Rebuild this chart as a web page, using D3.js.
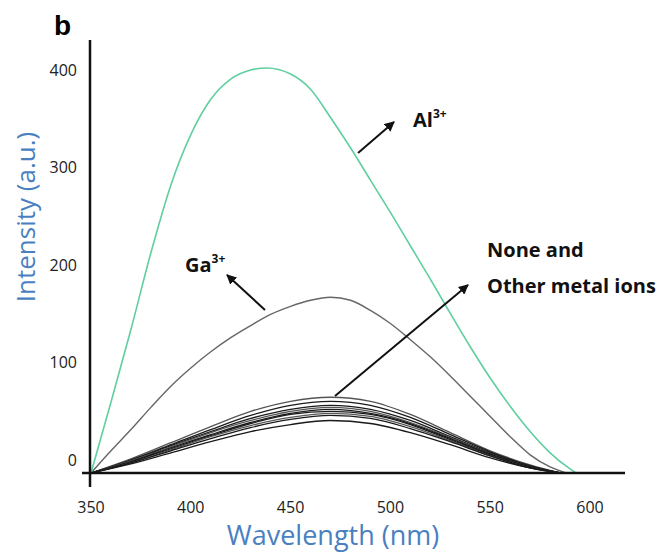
<!DOCTYPE html>
<html>
<head>
<meta charset="utf-8">
<script src="https://cdn.jsdelivr.net/npm/d3@7"></script>
<style>
  body { margin: 0; background: #fff; }
</style>
</head>
<body>
<div id="chart"></div>
<script>
// wavelengths (nm) and intensities
var alWl  = [350, 360, 370, 380, 390, 400, 410, 420, 430, 438, 450, 460, 470, 480, 490, 500, 510, 520, 530, 540, 550, 560, 570, 580, 590, 593];
var alVal = [0, 70, 142, 218, 285, 335, 370, 390, 399, 401, 395, 380, 352, 322, 290, 258, 225, 192, 158, 125, 94, 66, 41, 20, 4, 0];

var gaWl  = [350, 360, 370, 380, 390, 400, 410, 420, 430, 440, 450, 460, 470, 480, 490, 500, 510, 520, 530, 540, 550, 560, 570, 580, 588];
var gaVal = [0, 22, 43, 65, 86, 104, 120, 134, 146, 157, 165, 171, 174, 171, 161, 148, 132, 115, 96, 76, 56, 36, 18, 6, 0];

// "None and other metal ions" bundle
var otherWl = [350, 370, 390, 410, 430, 450, 470, 490, 510, 530, 550, 570, 585];
var other1 = [0, 14, 30, 46, 61, 71, 75, 71, 58, 40, 22, 8, 0];
var other2 = [0, 13, 28, 43, 57, 67, 71, 67, 55, 38, 21, 7, 0];
var other3 = [0, 12, 27, 41, 54, 63, 67, 63, 52, 36, 20, 7, 0];
var other4 = [0, 12, 26, 40, 52, 61, 65, 61, 50, 35, 19, 6, 0];
var other5 = [0, 11, 25, 38, 50, 59, 63, 59, 49, 34, 19, 6, 0];
var other6 = [0, 11, 24, 37, 49, 58, 61, 58, 48, 33, 18, 6, 0];
var other7 = [0, 10, 23, 36, 47, 55, 59, 56, 46, 32, 17, 5, 0];
var other8 = [0, 10, 22, 34, 45, 53, 57, 54, 44, 31, 17, 5, 0];
var other9 = [0, 9, 20, 31, 41, 48, 52, 49, 40, 28, 15, 5, 0];
var others = [other1, other2, other3, other4, other5, other6, other7, other8, other9];

var xTicks = [350, 400, 450, 500, 550, 600];
var yTicks = [0, 100, 200, 300, 400];

var W = 657, H = 555;
var svg = d3.select("#chart").append("svg")
    .attr("width", W)
    .attr("height", H)
    .style("font-family", "'Open Sans', sans-serif");

var x = d3.scaleLinear().domain([350, 600]).range([91, 590]);
var y = d3.scaleLinear().domain([0, 400]).range([473, 69]);
// the printed tick labels sit a little off the data scale
var yLab = d3.scaleLinear().domain([0, 400]).range([460, 70]);

function pairs(wl, vals) {
  return wl.map(function(w, i) { return [w, vals[i]]; });
}

var line = d3.line()
    .x(function(d) { return x(d[0]); })
    .y(function(d) { return y(d[1]); })
    .curve(d3.curveMonotoneX);

// bundle of other ions
svg.append("g").selectAll("path")
    .data(others)
    .enter()
    .append("path")
      .attr("d", function(d) { return line(pairs(otherWl, d)); })
      .attr("fill", "none")
      .attr("stroke", function(d, i) { return i % 3 == 0 ? "#555" : "#1a1a1a"; })
      .attr("stroke-width", 1.3);

// Ga3+
svg.append("path")
    .attr("d", line(pairs(gaWl, gaVal)))
    .attr("fill", "none")
    .attr("stroke", "#666")
    .attr("stroke-width", 1.4);

// Al3+
svg.append("path")
    .attr("d", line(pairs(alWl, alVal)))
    .attr("fill", "none")
    .attr("stroke", "#5fcf9f")
    .attr("stroke-width", 1.6);

// axes lines
svg.append("line")
    .attr("x1", 90).attr("x2", 90)
    .attr("y1", 40).attr("y2", 487)
    .attr("stroke", "#111").attr("stroke-width", 2.5);
svg.append("line")
    .attr("x1", 82).attr("x2", 625)
    .attr("y1", 473).attr("y2", 473)
    .attr("stroke", "#111").attr("stroke-width", 2.5);

// tick labels
svg.append("g").selectAll("text")
    .data(xTicks)
    .enter()
    .append("text")
      .attr("x", function(d) { return x(d); })
      .attr("y", 513)
      .attr("text-anchor", "middle")
      .style("font-size", "16px")
      .style("fill", "#222")
      .text(function(d) { return d; });

svg.append("g").selectAll("text")
    .data(yTicks)
    .enter()
    .append("text")
      .attr("x", 77)
      .attr("y", function(d) { return yLab(d); })
      .attr("dy", "0.35em")
      .attr("text-anchor", "end")
      .style("font-size", "16px")
      .style("fill", "#222")
      .text(function(d) { return d; });

// axis titles
svg.append("text")
    .attr("x", 333)
    .attr("y", 545)
    .attr("text-anchor", "middle")
    .style("font-size", "27px")
    .style("fill", "#4a7fc1")
    .text("Wavelength (nm)");

svg.append("text")
    .attr("transform", "translate(35,217) rotate(-90)")
    .attr("text-anchor", "middle")
    .style("font-size", "26px")
    .style("fill", "#4a7fc1")
    .text("Intensity (a.u.)");

// panel letter
svg.append("text")
    .attr("x", 54)
    .attr("y", 35)
    .style("font-family", "'Liberation Sans', Arial, sans-serif")
    .style("font-size", "28px")
    .style("font-weight", "bold")
    .text("b");

// arrows
svg.append("defs").append("marker")
    .attr("id", "head")
    .attr("viewBox", "0 0 10 10")
    .attr("refX", 9).attr("refY", 5)
    .attr("markerWidth", 5).attr("markerHeight", 5)
    .attr("orient", "auto")
  .append("path")
    .attr("d", "M0,0 L10,5 L0,10 Z")
    .attr("fill", "#111");

var arrows = [
  [358, 153, 394, 122],
  [265, 310, 227, 275],
  [335, 396, 468, 285]
];
svg.append("g").selectAll("line")
    .data(arrows)
    .enter()
    .append("line")
      .attr("x1", function(d) { return d[0]; })
      .attr("y1", function(d) { return d[1]; })
      .attr("x2", function(d) { return d[2]; })
      .attr("y2", function(d) { return d[3]; })
      .attr("stroke", "#111")
      .attr("stroke-width", 2)
      .attr("marker-end", "url(#head)");

// annotation labels
function ionLabel(px, py, base) {
  var t = svg.append("text")
      .attr("x", px)
      .attr("y", py)
      .style("font-size", "20px")
      .style("font-weight", "bold")
      .style("fill", "#111");
  t.append("tspan").text(base);
  t.append("tspan")
      .attr("dy", -9)
      .style("font-size", "12px")
      .text("3+");
}
ionLabel(413, 127, "Al");
ionLabel(185, 272, "Ga");

svg.append("text")
    .attr("x", 487).attr("y", 257)
    .style("font-size", "20px")
    .style("font-weight", "bold")
    .style("fill", "#111")
    .text("None and");
svg.append("text")
    .attr("x", 487).attr("y", 293)
    .style("font-size", "20px")
    .style("font-weight", "bold")
    .style("fill", "#111")
    .text("Other metal ions");
</script>
</body>
</html>
